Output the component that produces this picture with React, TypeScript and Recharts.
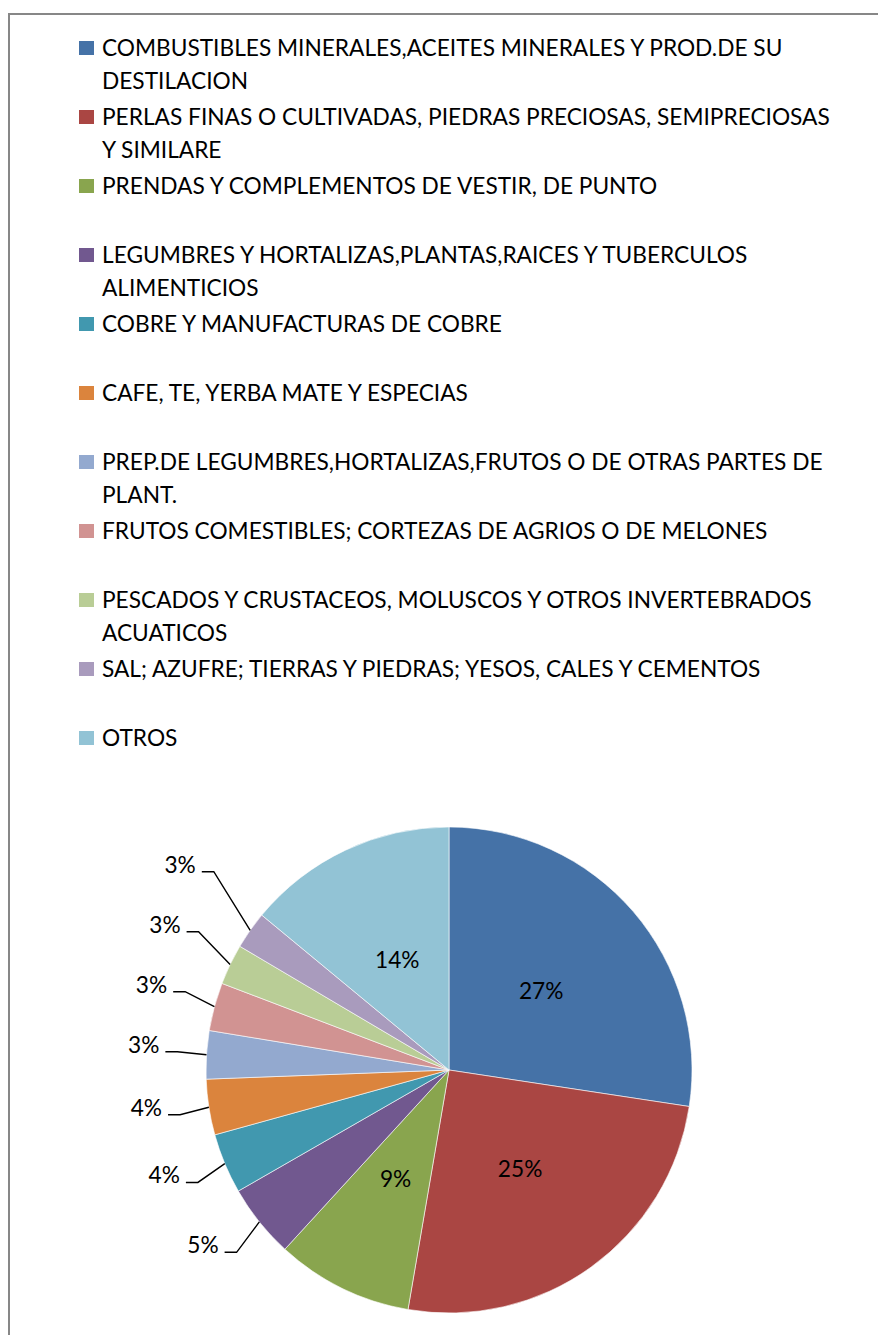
import React from 'react';
import { PieChart, Pie, Cell } from 'recharts';

const categories: string[] = [
  'COMBUSTIBLES MINERALES,ACEITES MINERALES Y PROD.DE SU DESTILACION',
  'PERLAS FINAS O CULTIVADAS, PIEDRAS PRECIOSAS, SEMIPRECIOSAS Y SIMILARE',
  'PRENDAS Y COMPLEMENTOS DE VESTIR, DE PUNTO',
  'LEGUMBRES Y HORTALIZAS,PLANTAS,RAICES Y TUBERCULOS ALIMENTICIOS',
  'COBRE Y MANUFACTURAS DE COBRE',
  'CAFE, TE, YERBA MATE Y ESPECIAS',
  'PREP.DE LEGUMBRES,HORTALIZAS,FRUTOS O DE OTRAS PARTES DE PLANT.',
  'FRUTOS COMESTIBLES; CORTEZAS DE AGRIOS O DE MELONES',
  'PESCADOS Y CRUSTACEOS, MOLUSCOS Y OTROS INVERTEBRADOS ACUATICOS',
  'SAL; AZUFRE; TIERRAS Y PIEDRAS; YESOS, CALES Y CEMENTOS',
  'OTROS',
];

const shares: number[] = [27.4, 25.3, 9.1, 4.9, 4.0, 3.7, 3.2, 3.2, 2.7, 2.5, 14.0];

const colors: string[] = [
  '#4572A7', '#AA4643', '#89A54E', '#71588F', '#4198AF', '#DB843D',
  '#93A9CF', '#D19392', '#B9CD96', '#A99BBD', '#92C3D5',
];

const FONT = 'Lato, "Open Sans", sans-serif';
const FS = 22.7;
const CX = 449;
const CY = 1070;
const R = 243;
const RAD = Math.PI / 180;

const data = categories.map((name, i) => ({ name, value: shares[i] }));

function wrapText(text: string, maxW: number): string[] {
  const ctx = document.createElement('canvas').getContext('2d');
  if (!ctx) return [text];
  ctx.font = `${FS}px Lato`;
  const words = text.split(' ');
  const lines: string[] = [];
  let cur = '';
  for (const w of words) {
    const t = cur ? cur + ' ' + w : w;
    if (cur && ctx.measureText(t).width > maxW) {
      lines.push(cur);
      cur = w;
    } else {
      cur = t;
    }
  }
  if (cur) lines.push(cur);
  return lines;
}

// layout of outside labels (small slices), pushed apart vertically
function outsideLayout(cx: number, cy: number, r: number) {
  const total = shares.reduce((a, b) => a + b, 0);
  const res: Record<number, { ex: number; ey: number; lx: number; ly: number }> = {};
  let acc = 0;
  let prevY = Infinity;
  shares.forEach((v, i) => {
    const mid = ((acc + v / 2) / total) * 360;
    acc += v;
    if (v / total >= 0.08) return;
    const s = Math.sin(mid * RAD);
    const c = Math.cos(mid * RAD);
    const ex = cx + r * s;
    const ey = cy - r * c;
    const natY = cy - 1.2 * r * c;
    const ly = Math.min(natY, prevY - 60);
    prevY = ly;
    const push = natY - ly;
    const lx = cx + (1.12 * r + push * 0.5) * s;
    res[i] = { ex, ey, lx, ly };
  });
  return res;
}

const renderLabel = (props: any) => {
  const { cx, cy, midAngle, outerRadius, percent, index } = props;
  const txt = `${Math.round(percent * 100)}%`;
  if (percent >= 0.08) {
    const r = outerRadius * 0.5;
    const x = cx + r * Math.cos(-midAngle * RAD);
    const y = cy + r * Math.sin(-midAngle * RAD);
    return (
      <text x={x} y={y + FS * 0.36} textAnchor="middle" fontFamily={FONT} fontSize={FS} fill="#000">
        {txt}
      </text>
    );
  }
  const lay = outsideLayout(cx, cy, outerRadius)[index];
  if (!lay) return null;
  const hx = lay.lx - 12;
  return (
    <g>
      <polyline
        points={`${hx},${lay.ly} ${lay.lx},${lay.ly} ${lay.ex},${lay.ey}`}
        fill="none"
        stroke="#000"
        strokeWidth={1.4}
      />
      <text x={hx - 6} y={lay.ly + 1} textAnchor="end" fontFamily={FONT} fontSize={FS} fill="#000">
        {txt}
      </text>
    </g>
  );
};

function LegendBlock() {
  return (
    <svg width={878} height={780} style={{ position: 'absolute', left: 0, top: 0 }}>
      {categories.map((name, i) => {
        const base = 56 + i * 69;
        const lines = wrapText(name, 738);
        return (
          <g key={name}>
            <rect x={79} y={base - 15} width={15} height={14} fill={colors[i]} />
            {lines.map((l, j) => (
              <text key={j} x={102} y={base + j * 33} fontFamily={FONT} fontSize={FS} fill="#000">
                {l}
              </text>
            ))}
          </g>
        );
      })}
    </svg>
  );
}

export default function App() {
  return (
    <div style={{ position: 'relative', width: 878, height: 1335, overflow: 'hidden', background: '#fff' }}>
      <style>{`body{margin:0;overflow:hidden;}`}</style>
      <div
        style={{
          position: 'absolute',
          left: 8,
          top: 13,
          width: 950,
          height: 1400,
          borderLeft: '2px solid #878787',
          borderTop: '2px solid #878787',
        }}
      />
      <LegendBlock />
      <div style={{ position: 'absolute', left: 0, top: 0 }}>
        <PieChart width={878} height={1335} margin={{ top: 0, right: 0, bottom: 0, left: 0 }}>
          <Pie
            data={data}
            dataKey="value"
            nameKey="name"
            cx={CX}
            cy={CY}
            outerRadius={R}
            startAngle={90}
            endAngle={-270}
            stroke="#ffffff"
            strokeWidth={0.6}
            label={renderLabel}
            labelLine={false}
            isAnimationActive={false}
          >
            {data.map((d, i) => (
              <Cell key={d.name} fill={colors[i]} />
            ))}
          </Pie>
        </PieChart>
      </div>
    </div>
  );
}
